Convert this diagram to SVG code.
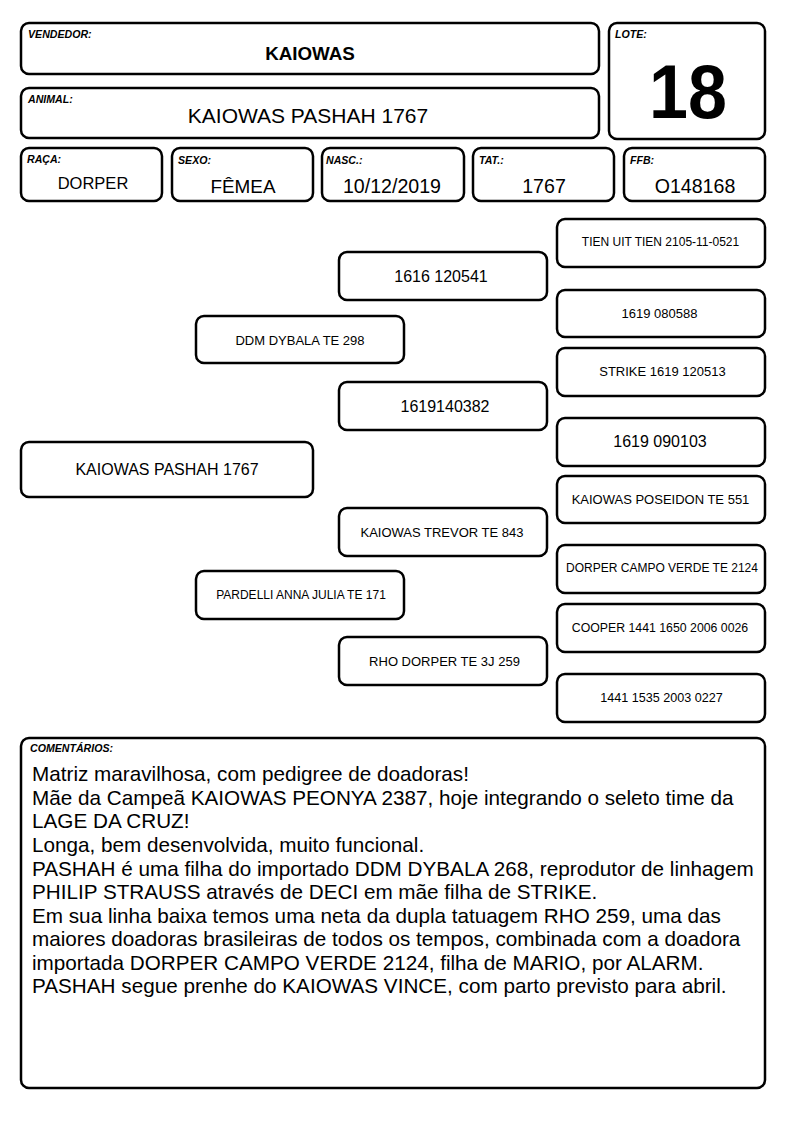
<svg xmlns="http://www.w3.org/2000/svg" width="794" height="1123" viewBox="0 0 794 1123">
<style>
.b{fill:#fff;stroke:#000;stroke-width:2.5}
.lb{font-family:"Liberation Sans",Arial,sans-serif;font-size:10.6px;font-weight:bold;font-style:italic}
.t{font-family:"Liberation Sans",Arial,sans-serif;text-anchor:middle;fill:#000}
.s{font-size:12px}
.s13{font-size:13px}
.m{font-size:16px}
.v{font-size:19.6px}
.c{font-family:"Liberation Sans",Arial,sans-serif;font-size:20.7px}
</style>
<rect width="794" height="1123" fill="#fff"/>
<g id="vendedor"><rect class="b" x="21" y="23" width="578" height="51" rx="8"/><text class="lb" x="28" y="38">VENDEDOR:</text><text class="t" x="310" y="60" font-size="18.8" font-weight="bold">KAIOWAS</text></g>
<g id="animal"><rect class="b" x="21" y="88" width="578" height="50" rx="8"/><text class="lb" x="28" y="103">ANIMAL:</text><text class="t" x="308" y="123" font-size="21">KAIOWAS PASHAH 1767</text></g>
<g id="lote"><rect class="b" x="609" y="23" width="156" height="116" rx="8"/><text class="lb" x="615" y="38">LOTE:</text><text class="t" transform="translate(688,118) scale(1,1.08)" font-size="70" font-weight="bold">18</text></g>
<g id="raca"><rect class="b" x="21" y="148" width="141" height="53" rx="8"/><text class="lb" x="27" y="163">RAÇA:</text><text class="t" x="93" y="188.5" font-size="16.5">DORPER</text></g>
<g id="sexo"><rect class="b" x="172" y="148" width="141" height="53" rx="8"/><text class="lb" x="178" y="164">SEXO:</text><text class="t" x="243" y="193" font-size="18.9">FÊMEA</text></g>
<g id="nasc"><rect class="b" x="322" y="148" width="142" height="53" rx="8"/><text class="lb" x="326" y="164">NASC.:</text><text class="t v" x="392" y="193">10/12/2019</text></g>
<g id="tat"><rect class="b" x="473" y="148" width="141" height="53" rx="8"/><text class="lb" x="479" y="164">TAT.:</text><text class="t v" x="544" y="193">1767</text></g>
<g id="ffb"><rect class="b" x="624" y="148" width="141" height="53" rx="8"/><text class="lb" x="630" y="164">FFB:</text><text class="t v" x="695" y="193">O148168</text></g>
<g id="connectors"></g>
<g id="p0"><rect class="b" x="21" y="442" width="292" height="55" rx="8"/><text class="t m" x="167" y="475">KAIOWAS PASHAH 1767</text></g>
<g id="p1"><rect class="b" x="196" y="316" width="208" height="47" rx="8"/><text class="t s13" x="300" y="344.5">DDM DYBALA TE 298</text></g>
<g id="p2"><rect class="b" x="196" y="571" width="208" height="48" rx="8"/><text class="t s" x="301" y="599">PARDELLI ANNA JULIA TE 171</text></g>
<g id="p3"><rect class="b" x="339" y="252" width="208" height="48" rx="8"/><text class="t m" x="441" y="282">1616 120541</text></g>
<g id="p4"><rect class="b" x="339" y="382" width="208" height="48" rx="8"/><text class="t m" x="445" y="412">1619140382</text></g>
<g id="p5"><rect class="b" x="339" y="508" width="208" height="48" rx="8"/><text class="t s13" x="442" y="536.5">KAIOWAS TREVOR TE 843</text></g>
<g id="p6"><rect class="b" x="339" y="637" width="208" height="48" rx="8"/><text class="t s13" x="444.5" y="665.5">RHO DORPER TE 3J 259</text></g>
<g id="p7"><rect class="b" x="557" y="219" width="208" height="48" rx="8"/><text class="t s" x="660.5" y="246">TIEN UIT TIEN 2105-11-0521</text></g>
<g id="p8"><rect class="b" x="557" y="290" width="208" height="47" rx="8"/><text class="t s13" x="659.5" y="317.5">1619 080588</text></g>
<g id="p9"><rect class="b" x="557" y="348" width="208" height="48" rx="8"/><text class="t s13" x="662.5" y="376">STRIKE 1619 120513</text></g>
<g id="p10"><rect class="b" x="557" y="418" width="208" height="48" rx="8"/><text class="t m" x="660" y="447">1619 090103</text></g>
<g id="p11"><rect class="b" x="557" y="476" width="208" height="47" rx="8"/><text class="t s13" x="660.5" y="504">KAIOWAS POSEIDON TE 551</text></g>
<g id="p12"><rect class="b" x="557" y="545" width="208" height="48" rx="8"/><text class="t s" x="662" y="572">DORPER CAMPO VERDE TE 2124</text></g>
<g id="p13"><rect class="b" x="557" y="604" width="208" height="48" rx="8"/><text class="t" font-size="12.3" x="660" y="631.5">COOPER 1441 1650 2006 0026</text></g>
<g id="p14"><rect class="b" x="557" y="674" width="208" height="48" rx="8"/><text class="t" font-size="12.6" x="661.5" y="702">1441 1535 2003 0227</text></g>
<g id="comentarios"><rect class="b" x="21" y="738" width="744" height="350" rx="8"/><text class="lb" x="30" y="752">COMENTÁRIOS:</text>
<text class="c" x="32" y="781">Matriz maravilhosa, com pedigree de doadoras!</text>
<text class="c" x="32" y="805">Mãe da Campeã KAIOWAS PEONYA 2387, hoje integrando o seleto time da</text>
<text class="c" x="32" y="828">LAGE DA CRUZ!</text>
<text class="c" x="32" y="852">Longa, bem desenvolvida, muito funcional.</text>
<text class="c" x="32" y="876">PASHAH é uma filha do importado DDM DYBALA 268, reprodutor de linhagem</text>
<text class="c" x="32" y="899">PHILIP STRAUSS através de DECI em mãe filha de STRIKE.</text>
<text class="c" x="32" y="923">Em sua linha baixa temos uma neta da dupla tatuagem RHO 259, uma das</text>
<text class="c" x="32" y="946">maiores doadoras brasileiras de todos os tempos, combinada com a doadora</text>
<text class="c" x="32" y="970">importada DORPER CAMPO VERDE 2124, filha de MARIO, por ALARM.</text>
<text class="c" x="32" y="993">PASHAH segue prenhe do KAIOWAS VINCE, com parto previsto para abril.</text>
</g>
</svg>
